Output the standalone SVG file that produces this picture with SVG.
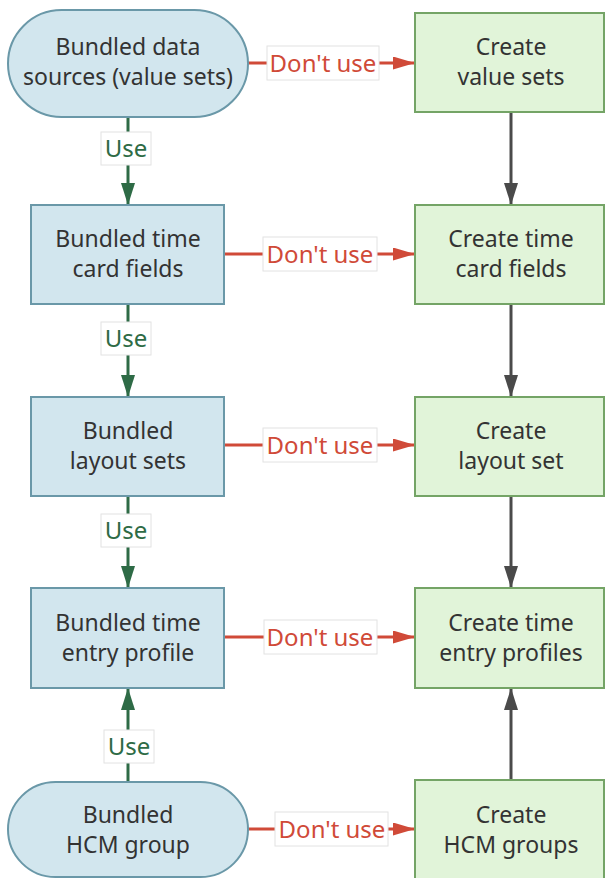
<svg xmlns="http://www.w3.org/2000/svg" width="605" height="878" viewBox="0 0 605 878">
<style>
.blue{fill:#d2e6ee;stroke:#6a98a8;stroke-width:2}
.green{fill:#e1f4d9;stroke:#74a466;stroke-width:2}
.nt{font-family:"Noto Sans",sans-serif;font-size:23px;fill:#333;text-anchor:middle}
.use{stroke:#2e6b46;stroke-width:3;fill:none}
.dont{stroke:#d04a38;stroke-width:3;fill:none}
.gray{stroke:#4a4a4a;stroke-width:3;fill:none}
.lbl{fill:#fff;stroke:#e2e2e2;stroke-width:1}
.ut{font-family:"Noto Sans",sans-serif;font-size:24px;fill:#2e6b46;text-anchor:middle}
.dt{font-family:"Noto Sans",sans-serif;font-size:24px;fill:#d04a38;text-anchor:middle}
</style>
<defs>
<marker id="ag" markerWidth="22" markerHeight="14" refX="22" refY="7" orient="auto" markerUnits="userSpaceOnUse"><path d="M0,0 L22,7 L0,14 z" fill="#2e6b46"/></marker>
<marker id="ar" markerWidth="22" markerHeight="13" refX="22" refY="6.5" orient="auto" markerUnits="userSpaceOnUse"><path d="M0,0 L22,6.5 L0,13 z" fill="#d04a38"/></marker>
<marker id="ak" markerWidth="22" markerHeight="14" refX="22" refY="7" orient="auto" markerUnits="userSpaceOnUse"><path d="M0,0 L22,7 L0,14 z" fill="#4a4a4a"/></marker>
</defs>
<rect width="605" height="878" fill="#fff"/>
<g id="connectors">
<line class="use" x1="128" y1="117" x2="128" y2="205" marker-end="url(#ag)"/>
<line class="use" x1="128" y1="304" x2="128" y2="397" marker-end="url(#ag)"/>
<line class="use" x1="128" y1="496" x2="128" y2="588" marker-end="url(#ag)"/>
<line class="use" x1="128" y1="782" x2="128" y2="688" marker-end="url(#ag)"/>
<line class="gray" x1="511" y1="112" x2="511" y2="205" marker-end="url(#ak)"/>
<line class="gray" x1="511" y1="304" x2="511" y2="397" marker-end="url(#ak)"/>
<line class="gray" x1="511" y1="496" x2="511" y2="588" marker-end="url(#ak)"/>
<line class="gray" x1="511" y1="780" x2="511" y2="688" marker-end="url(#ak)"/>
<line class="dont" x1="248" y1="63" x2="415" y2="63" marker-end="url(#ar)"/>
<line class="dont" x1="224" y1="254" x2="415" y2="254" marker-end="url(#ar)"/>
<line class="dont" x1="224" y1="445" x2="415" y2="445" marker-end="url(#ar)"/>
<line class="dont" x1="224" y1="637" x2="415" y2="637" marker-end="url(#ar)"/>
<line class="dont" x1="248" y1="829" x2="415" y2="829" marker-end="url(#ar)"/>
<rect class="lbl" x="101" y="132" width="50" height="33"/><text class="ut" x="126" y="157">Use</text>
<rect class="lbl" x="101" y="322" width="50" height="33"/><text class="ut" x="126" y="347">Use</text>
<rect class="lbl" x="101" y="514" width="50" height="33"/><text class="ut" x="126" y="539">Use</text>
<rect class="lbl" x="104" y="730" width="50" height="33"/><text class="ut" x="129" y="755">Use</text>
<rect class="lbl" x="267" y="46" width="112" height="34"/><text class="dt" x="323" y="72">Don't use</text>
<rect class="lbl" x="263" y="237" width="114" height="34"/><text class="dt" x="320" y="263">Don't use</text>
<rect class="lbl" x="263" y="428" width="114" height="34"/><text class="dt" x="320" y="454">Don't use</text>
<rect class="lbl" x="264" y="620" width="113" height="34"/><text class="dt" x="320" y="646">Don't use</text>
<rect class="lbl" x="275" y="812" width="113" height="34"/><text class="dt" x="332" y="838">Don't use</text>
</g>
<g id="n1"><rect class="blue" x="8" y="10" width="240" height="107" rx="53.5"/><text class="nt" x="128" y="55">Bundled data</text><text class="nt" x="128" y="85">sources (value sets)</text></g>
<g id="n2"><rect class="blue" x="31" y="205" width="193" height="99"/><text class="nt" x="128" y="247">Bundled time</text><text class="nt" x="128" y="277">card fields</text></g>
<g id="n3"><rect class="blue" x="31" y="397" width="193" height="99"/><text class="nt" x="128" y="439">Bundled</text><text class="nt" x="128" y="469">layout sets</text></g>
<g id="n4"><rect class="blue" x="31" y="588" width="193" height="100"/><text class="nt" x="128" y="631">Bundled time</text><text class="nt" x="128" y="661">entry profile</text></g>
<g id="n5"><rect class="blue" x="8" y="782" width="240" height="95" rx="47.5"/><text class="nt" x="128" y="823">Bundled</text><text class="nt" x="128" y="853">HCM group</text></g>
<g id="m1"><rect class="green" x="415" y="13" width="189" height="99"/><text class="nt" x="511" y="55">Create</text><text class="nt" x="511" y="85">value sets</text></g>
<g id="m2"><rect class="green" x="415" y="205" width="189" height="99"/><text class="nt" x="511" y="247">Create time</text><text class="nt" x="511" y="277">card fields</text></g>
<g id="m3"><rect class="green" x="415" y="397" width="189" height="99"/><text class="nt" x="511" y="439">Create</text><text class="nt" x="511" y="469">layout set</text></g>
<g id="m4"><rect class="green" x="415" y="588" width="189" height="100"/><text class="nt" x="511" y="631">Create time</text><text class="nt" x="511" y="661">entry profiles</text></g>
<g id="m5"><rect class="green" x="415" y="780" width="189" height="110"/><text class="nt" x="511" y="823">Create</text><text class="nt" x="511" y="853">HCM groups</text></g>
</svg>
